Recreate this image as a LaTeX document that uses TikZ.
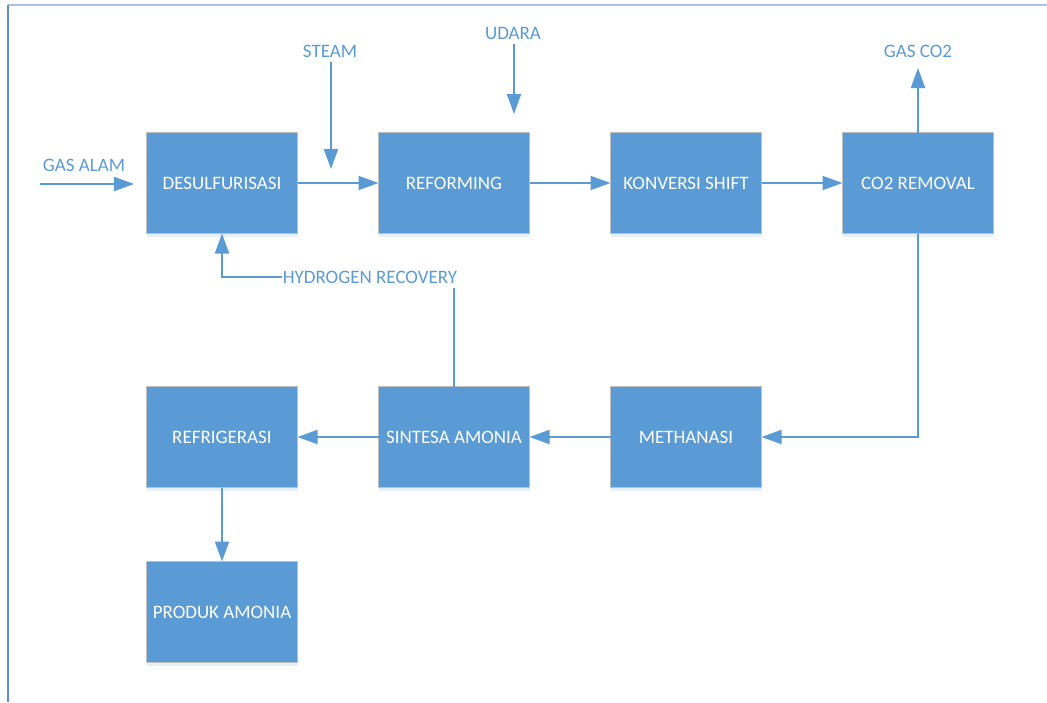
\documentclass[tikz,border=0pt]{standalone}
\usepackage{fontspec}
\setmainfont{Carlito}
\usepackage{tikz}
\usetikzlibrary{positioning}
\usetikzlibrary{arrows.meta}
\usetikzlibrary{shadows}
\definecolor{boxblue}{HTML}{5B9BD5}
\definecolor{boxedge}{HTML}{BFBFBF}
\definecolor{frameblue}{HTML}{5B8FCF}
\definecolor{frametop}{HTML}{A9C3E3}

\begin{document}
\begin{tikzpicture}[
x=1pt, y=-1pt,
>={Triangle[length=20pt, width=14pt]},
processbox/.style={rectangle, draw=boxedge, fill=boxblue, line width=1.5pt, minimum width=151pt, minimum height=101pt, outer sep=0pt, text=white, font=\fontsize{19}{22}\selectfont, drop shadow={shadow xshift=0pt, shadow yshift=-3pt, opacity=0.15, fill=boxblue}},
flowlabel/.style={text=boxblue, font=\fontsize{19}{22}\selectfont, inner xsep=1pt, inner ysep=5pt},
flow/.style={draw=boxblue, line width=2pt},
]
\useasboundingbox (0,0) rectangle (1047,702);
%Frame
\draw[frametop, line width=1.5pt] (8,5) -- (1047,5);
\draw[frameblue, line width=1.5pt] (8,5) -- (8,702);

%Nodes
\node[processbox]      (desulf)                              at (222,183) {DESULFURISASI};
\node[processbox]      (reform)      [right=81pt of desulf]  {REFORMING};
\node[processbox]      (shift)       [right=81pt of reform]  {KONVERSI SHIFT};
\node[processbox]      (co2rem)      [right=81pt of shift]   {CO2 REMOVAL};
\node[processbox]      (refrig)      [below=153pt of desulf] {REFRIGERASI};
\node[processbox]      (sintesa)     [right=81pt of refrig]  {SINTESA AMONIA};
\node[processbox]      (methan)      [right=81pt of sintesa] {METHANASI};
\node[processbox]      (produk)      [below=74pt of refrig]  {PRODUK AMONIA};

\node[flowlabel]       (gasalam)     at (84,165)  {GAS ALAM};
\node[flowlabel]       (steam)       at (330,51)  {STEAM};
\node[flowlabel]       (udara)       at (513,33)  {UDARA};
\node[flowlabel]       (gasco2)      at (918,51)  {GAS CO2};
\node[flowlabel]       (hydrogen)    at (370,277) {HYDROGEN RECOVERY};

\coordinate (gasin)    at (40,184);
\coordinate (gasend)   at (134,184);
\coordinate (steamend) at (331,169);
\coordinate (udaraend) at (514,114);
\coordinate (co2end)   at (918,68);

%Lines
\draw[flow, ->] (gasin) -- (gasend);
\draw[flow, ->] (steam.south -| steamend) -- (steamend);
\draw[flow, ->] (udara.south -| udaraend) -- (udaraend);
\draw[flow, ->] (desulf.east) -- (reform.west);
\draw[flow, ->] (reform.east) -- (shift.west);
\draw[flow, ->] (shift.east) -- (co2rem.west);
\draw[flow, ->] (co2rem.north) -- (co2rem.north |- co2end);
\draw[flow, ->] (co2rem.south) |- (methan.east);
\draw[flow, ->] (methan.west) -- (sintesa.east);
\draw[flow, ->] (sintesa.west) -- (refrig.east);
\draw[flow, ->] (refrig.south) -- (produk.north);
\draw[flow] (sintesa.north) -- (sintesa.north |- hydrogen.south);
\draw[flow, ->] (hydrogen.west) -| (desulf.south);
\end{tikzpicture}
\end{document}
